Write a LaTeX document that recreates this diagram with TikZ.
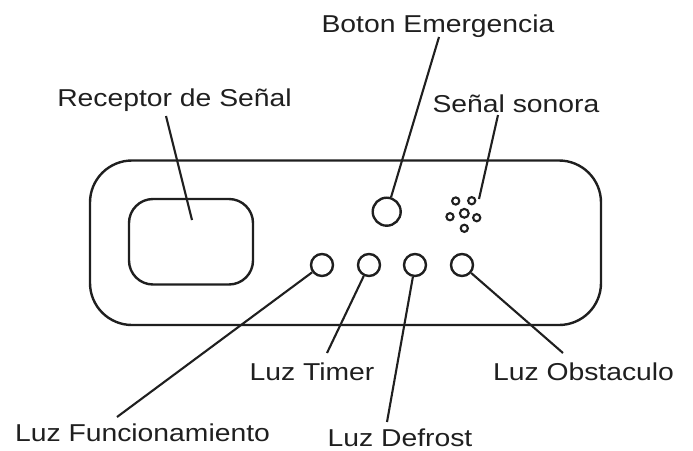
\documentclass[tikz,border=0pt]{standalone}
\usepackage{fontspec}
\setmainfont{Liberation Sans}[FakeStretch=1.16]
\begin{document}
\begin{tikzpicture}[x=1pt,y=-1pt,
  line/.style={line width=2.4pt,draw=black!88},
  lbl/.style={inner sep=0pt,anchor=base,font=\fontsize{24.4}{29}\selectfont,text=black!88},
  led/.style={circle,draw=black!88,line width=2.4pt,minimum size=22pt,inner sep=0pt},
  btn/.style={circle,draw=black!88,line width=2.4pt,minimum size=28pt,inner sep=0pt},
  hole/.style={circle,draw=black!88,line width=2.1pt,minimum size=7.2pt,inner sep=0pt},
  leader/.style={line width=2.1pt,draw=black!88}]
\useasboundingbox (0,0) rectangle (693,450);
% body
\draw[line,rounded corners=42pt] (90,160.5) rectangle (601,325);
\draw[line,rounded corners=24pt] (129,199) rectangle (253,284.5);
% controls
\node[btn] (be) at (386.7,211.7) {};
\node[led] (l1) at (322,265) {};
\node[led] (l2) at (369,265) {};
\node[led] (l3) at (415,265) {};
\node[led] (l4) at (462,265) {};
\node[hole] (h1) at (455.7,201) {};
\node[hole] (h2) at (471.7,200.7) {};
\node[hole] (h3) at (450,216.7) {};
\node[hole,minimum size=8.8pt] (h4) at (464.3,213.3) {};
\node[hole] (h5) at (476.7,217.7) {};
\node[hole] (h6) at (464.3,228.3) {};
% labels
\node[lbl] (tbe) at (438,32) {Boton Emergencia};
\node[lbl] (trs) at (174.5,106) {Receptor de Señal};
\node[lbl] (tss) at (516,112) {Señal sonora};
\node[lbl] (tlf) at (142.5,441) {Luz Funcionamiento};
\node[lbl] (tlt) at (312,380) {Luz Timer};
\node[lbl] (tld) at (400,446.5) {Luz Defrost};
\node[lbl] (tlo) at (583.5,380) {Luz Obstaculo};
% leader end points
\coordinate (abe) at (439,37);
\coordinate (ars) at (166,116);
\coordinate (brs) at (192,220);
\coordinate (ass) at (498,115);
\coordinate (bss) at (479,199);
\coordinate (alf) at (117,417);
\coordinate (alt) at (327,353);
\coordinate (ald) at (387,422);
\coordinate (alo) at (563,353);
% leaders
\draw[leader] (abe) -- (be);
\draw[leader] (ars) -- (brs);
\draw[leader] (ass) -- (bss);
\draw[leader] (alf) -- (l1);
\draw[leader] (alt) -- (l2);
\draw[leader] (ald) -- (l3);
\draw[leader] (alo) -- (l4);
\end{tikzpicture}
\end{document}
